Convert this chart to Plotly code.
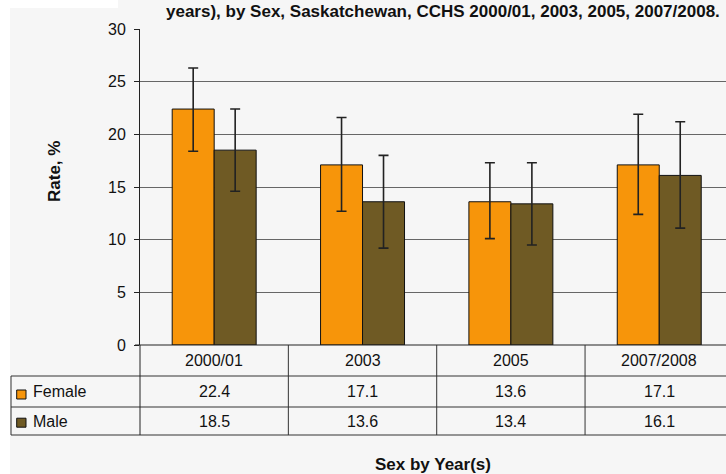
import plotly.graph_objects as go

years = ["2000/01", "2003", "2005", "2007/2008"]
female = [22.4, 17.1, 13.6, 17.1]
male = [18.5, 13.6, 13.4, 16.1]
female_hi = [26.3, 21.6, 17.3, 21.9]
female_lo = [18.4, 12.7, 10.1, 12.4]
male_hi = [22.4, 18.0, 17.3, 21.2]
male_lo = [14.6, 9.2, 9.5, 11.1]
y_ticks = [0, 5, 10, 15, 20, 25, 30]
title_text = "years), by Sex, Saskatchewan, CCHS 2000/01, 2003, 2005, 2007/2008."

W, H = 726, 474
ML, MR, MT, MB = 140, 0, 29, 129
PW, PH = W - ML - MR, H - MT - MB

def px(x):
    return (x - ML) / PW

def py(y):
    return (H - MB - y) / PH

ORANGE = "#F7950A"
BROWN = "#6F5A24"
FONT = "Liberation Sans, Arial, sans-serif"
REG = 16
BOLD = 17

fig = go.Figure()
idx = list(range(len(years)))
fig.add_trace(go.Bar(
    x=idx, y=female, name="Female", marker=dict(color=ORANGE, line=dict(color="#111", width=1)),
    error_y=dict(type="data", symmetric=False,
                 array=[h - v for h, v in zip(female_hi, female)],
                 arrayminus=[v - l for v, l in zip(female, female_lo)],
                 color="#222", thickness=1.6, width=5)))
fig.add_trace(go.Bar(
    x=idx, y=male, name="Male", marker=dict(color=BROWN, line=dict(color="#111", width=1)),
    error_y=dict(type="data", symmetric=False,
                 array=[h - v for h, v in zip(male_hi, male)],
                 arrayminus=[v - l for v, l in zip(male, male_lo)],
                 color="#222", thickness=1.6, width=5)))

shapes = []
annotations = []

def label(x, y, text, size=REG, xref="paper", xanchor="center", angle=0):
    annotations.append(dict(x=x, y=y, xref=xref, yref="paper", text=text, showarrow=False,
                            xanchor=xanchor, yanchor="middle", textangle=angle,
                            font=dict(size=size, color="#111", family=FONT)))

# white strips (top-left and left edge)
shapes.append(dict(type="rect", xref="paper", yref="paper", x0=px(0), x1=px(118), y0=py(8), y1=py(0),
                   fillcolor="white", line=dict(width=0), layer="below"))
shapes.append(dict(type="rect", xref="paper", yref="paper", x0=px(0), x1=px(10), y0=py(474), y1=py(0),
                   fillcolor="white", line=dict(width=0), layer="below"))
# baseline (zero line extended with tick)
shapes.append(dict(type="line", xref="paper", yref="paper", x0=px(135), x1=1, y0=0, y1=0,
                   line=dict(color="#222", width=1)))
# table lines
for yp in [376, 407, 435]:
    shapes.append(dict(type="line", xref="paper", yref="paper", x0=px(11), x1=1, y0=py(yp), y1=py(yp),
                       line=dict(color="#333", width=1)))
shapes.append(dict(type="line", xref="paper", yref="paper", x0=px(11), x1=px(11), y0=py(376), y1=py(435),
                   line=dict(color="#333", width=1)))
shapes.append(dict(type="line", xref="paper", yref="paper", x0=0, x1=0, y0=0, y1=py(435),
                   line=dict(color="#222", width=1)))
for b in [0.5, 1.5, 2.5]:
    shapes.append(dict(type="line", xref="x", yref="paper", x0=b, x1=b, y0=0, y1=py(435),
                       line=dict(color="#333", width=1)))

# header labels and values
for i, yr in enumerate(years):
    label(i, py(360), yr, xref="x")
    label(i, py(392), f"{female[i]:.1f}", xref="x")
    label(i, py(421), f"{male[i]:.1f}", xref="x")

# row legend
for col, yc in [(ORANGE, 394.5), (BROWN, 422.7)]:
    shapes.append(dict(type="rect", xref="paper", yref="paper", x0=px(16.7), x1=px(26), y0=py(yc + 4.5), y1=py(yc - 4.5),
                       fillcolor=col, line=dict(color="#111", width=1)))
for name, yc in [("Female", 392), ("Male", 421)]:
    label(px(31), py(yc), name, xanchor="left")

# titles
label(px(722), py(12), f"<b>{title_text}</b>", size=BOLD, xanchor="right")
label(px(54), py(172), "<b>Rate, %</b>", size=BOLD, angle=-90)
label(px(433), py(464), "<b>Sex by Year(s)</b>", size=BOLD)

fig.update_layout(
    width=W, height=H,
    margin=dict(l=ML, r=MR, t=MT, b=MB, pad=0),
    paper_bgcolor="#F6F6F6", plot_bgcolor="#F6F6F6",
    showlegend=False, barmode="group", bargap=0.434, bargroupgap=0,
    font=dict(family=FONT, size=REG, color="#111"),
    xaxis=dict(range=[-0.5, 3.45], showticklabels=False, showgrid=False, zeroline=False,
               showline=False, ticks="", fixedrange=True),
    yaxis=dict(range=[0, 30], tickvals=y_ticks, showgrid=True, gridcolor="#666", gridwidth=1,
               zeroline=False, showline=True, linecolor="#222", linewidth=1,
               ticks="outside", ticklen=5, tickcolor="#222", ticklabelstandoff=5,
               tickfont=dict(size=REG, color="#111", family=FONT)),
    shapes=shapes, annotations=annotations,
)
fig.write_html("out.html", config={"displayModeBar": False},
               post_script="document.body.style.margin='0';document.body.style.overflow='hidden';")
